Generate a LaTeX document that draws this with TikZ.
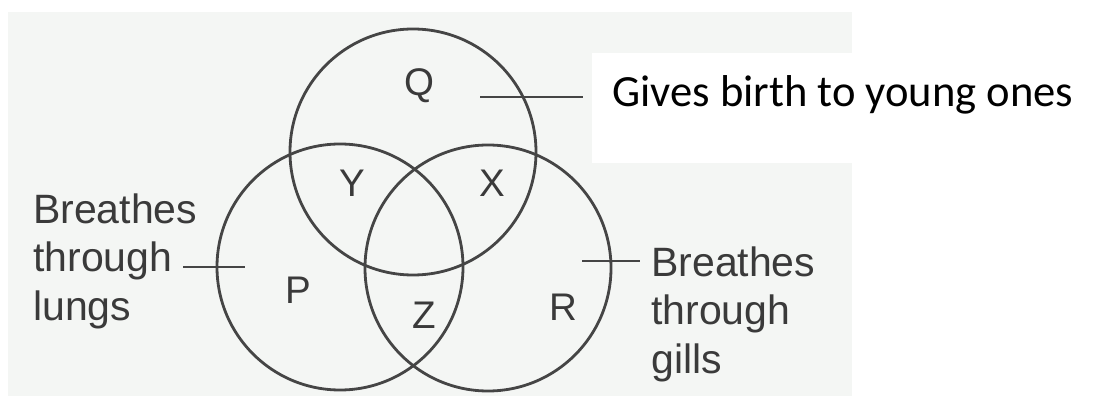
\documentclass[tikz,border=0pt]{standalone}
\usepackage{fontspec}
\setmainfont{Liberation Sans}
\newfontfamily\calfont{Carlito}
\definecolor{bggrey}{HTML}{F4F6F4}
\definecolor{linegrey}{HTML}{454545}
\definecolor{textgrey}{HTML}{3A3A3A}
\tikzset{
  vcirc/.style={circle, draw=linegrey, line width=2.8pt, minimum size=246pt, inner sep=0pt},
  region/.style={text=textgrey, font=\fontsize{38.5}{42}\selectfont, inner sep=0pt},
  side/.style={text=textgrey, font=\fontsize{41}{48.5}\selectfont, align=left, inner sep=0pt, anchor=base west},
  lead/.style={draw=linegrey, line width=2.8pt},
}
\begin{document}
\begin{tikzpicture}[x=1pt,y=-1pt]
\useasboundingbox (0,0) rectangle (1117,398);
\fill[white] (0,0) rectangle (1117,398);
\fill[bggrey] (8,12) rectangle (852,396);
\fill[white] (592,53) rectangle (1117,163);
% circles
\node[vcirc] (Q) at (413,152) {};
\node[vcirc] (P) at (340,267) {};
\node[vcirc] (R) at (488,268) {};
% region labels
\node[region] (lq) at (419,86) {Q};
\node[region] (ly) at (352,183) {Y};
\node[region] (lx) at (492,183) {X};
\node[region] (lp) at (298,290) {P};
\node[region] (lz) at (424,315) {Z};
\node[region] (lr) at (563,307) {R};
% side texts
\node[anchor=base west, inner sep=0pt, text=black, font=\calfont\fontsize{44.6}{50}\selectfont] (gives) at (612,107) {Gives birth to young ones};
\node[side] (lungs) at (33,320) {Breathes\\through\\lungs};
\node[side] (gills) at (651,373) {Breathes\\through\\gills};
% leader lines
\coordinate (qa) at (480,97);
\coordinate (qb) at (583,97);
\draw[lead] (qa) -- (qb);
\coordinate (la) at (183,267);
\coordinate (lb) at (245,267);
\draw[lead] (la) -- (lb);
\coordinate (ra) at (582,261);
\coordinate (rb) at (640,261);
\draw[lead] (ra) -- (rb);
\end{tikzpicture}
\end{document}
